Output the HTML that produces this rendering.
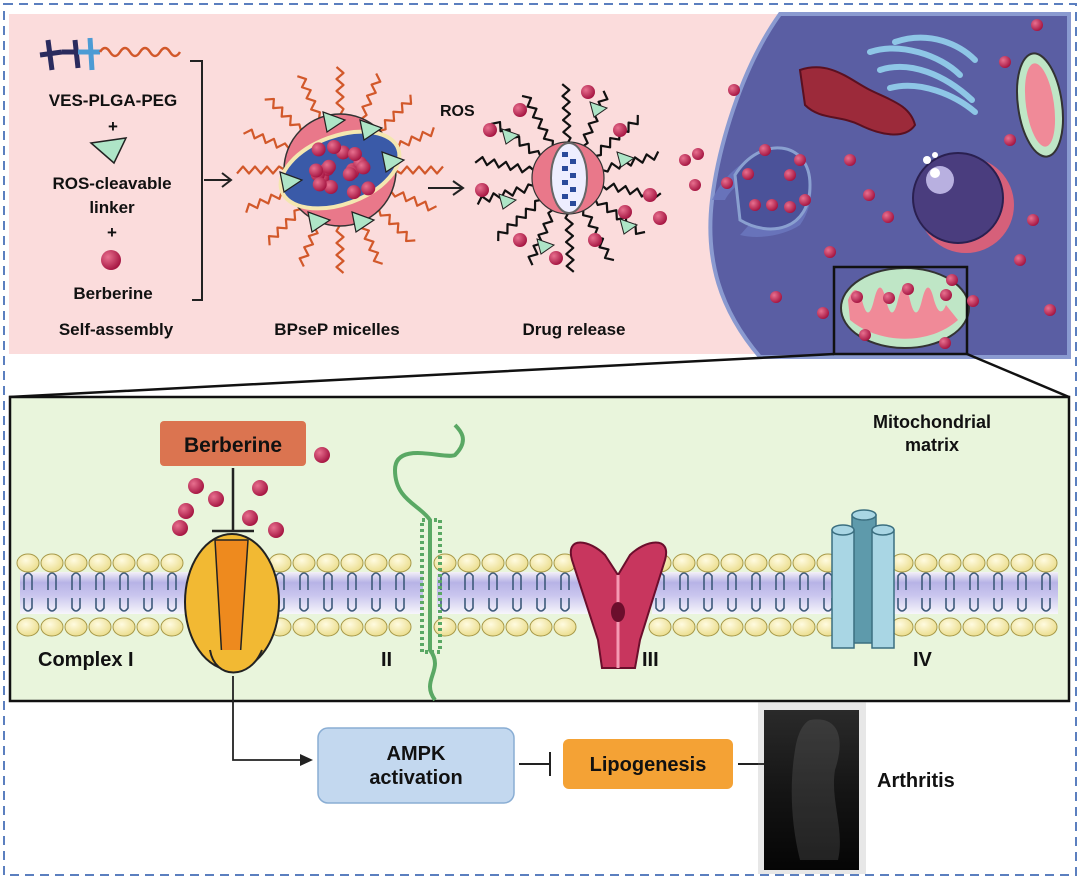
<!DOCTYPE html>
<html><head><meta charset="utf-8"><style>
html,body{margin:0;padding:0;background:#fff;width:1080px;height:879px;overflow:hidden}
svg{display:block}
text{font-family:"Liberation Sans",Arial,sans-serif;font-weight:bold;fill:#111}
</style></head><body>
<svg id="s" width="1080" height="879" viewBox="0 0 1080 879" xmlns="http://www.w3.org/2000/svg">
<defs>
<radialGradient id="ball" cx="0.35" cy="0.35" r="0.7"><stop offset="0" stop-color="#e8708f"/><stop offset="1" stop-color="#a3123f"/></radialGradient>
<linearGradient id="band" x1="0" y1="0" x2="0" y2="1"><stop offset="0" stop-color="#f4f0f8"/><stop offset="0.25" stop-color="#b7b3e6"/><stop offset="0.55" stop-color="#c9c5ee"/><stop offset="1" stop-color="#f7f6fb"/></linearGradient>
<radialGradient id="head" cx="0.4" cy="0.35" r="0.7"><stop offset="0" stop-color="#fffbe0"/><stop offset="1" stop-color="#eadc8a"/></radialGradient>
<linearGradient id="xr" x1="0" y1="0" x2="0" y2="1"><stop offset="0" stop-color="#2a2a2a"/><stop offset="0.5" stop-color="#151515"/><stop offset="1" stop-color="#050505"/></linearGradient>
</defs>
<rect x="4" y="4" width="1072" height="871" fill="none" stroke="#5b7fbf" stroke-width="2" stroke-dasharray="9,6"/>
<rect x="9" y="14" width="1060" height="340" fill="#fbdcdc"/>
<path d="M780 14 L1069 14 L1069 357 L760 357 C720 310 705 260 712 200 C718 150 740 70 780 14 Z" fill="#5a5ea3" stroke="#8a9ad0" stroke-width="4"/>
<path d="M712 200 C725 170 760 145 790 150 C815 160 818 200 800 225 C785 235 760 240 740 235 C755 220 770 195 760 180 C745 175 730 190 725 200 Z" fill="#6b78bf" opacity="0.8"/>
<path d="M735 175 C760 135 810 140 810 185 C810 230 770 238 740 220 Z" fill="#4b5299" stroke="#8aa0d0" stroke-width="3"/>
<g fill="none" stroke="#8ec6e6" stroke-width="6" stroke-linecap="round">
<path d="M870 52 C900 42 940 55 960 75"/><path d="M880 70 C910 60 945 75 972 100"/><path d="M890 88 C920 80 955 95 975 112"/><path d="M895 42 C930 30 960 45 975 60"/></g>
<path d="M800 70 C830 60 850 80 870 90 C890 100 910 105 915 125 C905 140 880 135 860 125 C840 115 820 120 805 105 Z" fill="#9c2a3a" stroke="#5a1020" stroke-width="2"/>
<ellipse cx="1040" cy="105" rx="22" ry="52" fill="#bfe6c6" stroke="#333" stroke-width="2" transform="rotate(-8 1040 105)"/>
<ellipse cx="1040" cy="105" rx="14" ry="42" fill="#f08a98" transform="rotate(-8 1040 105)"/>
<circle cx="966" cy="205" r="48" fill="#d6607a"/>
<circle cx="958" cy="198" r="45" fill="#4a3d7e" stroke="#2a2050" stroke-width="2"/>
<circle cx="940" cy="180" r="14" fill="#b8b0e0"/><circle cx="935" cy="173" r="5" fill="#fff"/>
<circle cx="927" cy="160" r="4" fill="#fff"/><circle cx="935" cy="155" r="3" fill="#fff"/>
<ellipse cx="905" cy="308" rx="64" ry="40" fill="#bfe6c6" stroke="#333" stroke-width="2"/>
<path d="M848 300 q8 -20 14 0 q6 25 12 0 q6 -25 12 0 q6 25 12 0 q6 -25 12 0 q6 25 12 0 q6 -25 12 0 q6 20 12 5 L958 320 C930 345 880 345 850 320 Z" fill="#f08a98"/>
<rect x="834" y="267" width="133" height="87" fill="none" stroke="#111" stroke-width="2.5"/>
<path d="M834 354 L9 397 M967 354 L1069 397" stroke="#111" stroke-width="2.5" fill="none"/>
<rect x="10" y="397" width="1059" height="304" fill="#e9f5dc" stroke="#111" stroke-width="2.5"/>
<g id="mem"></g>
<g id="dyn"></g>
<ellipse cx="232" cy="602" rx="47" ry="68" fill="#f2b933" stroke="#222" stroke-width="2"/>
<path d="M215 540 L248 540 L240 660 L222 660 Z" fill="#ee8a1e" stroke="#222" stroke-width="1.5"/>
<path d="M210 650 C215 680 250 680 262 650" fill="#f2b933" stroke="#222" stroke-width="2"/>
<path d="M435 700 C420 680 445 670 430 650 L430 520 C420 505 395 500 395 470 C395 440 445 460 455 455 C470 440 460 430 455 425" fill="none" stroke="#5aa864" stroke-width="4"/>
<rect x="422" y="520" width="18" height="132" fill="none" stroke="#5aa864" stroke-width="4" stroke-dasharray="3,3"/>
<path d="M572 560 C565 535 590 540 605 555 L618 575 L630 555 C645 540 672 535 665 560 L640 640 L635 668 L602 668 L598 640 Z" fill="#c8365e" stroke="#6b0e2c" stroke-width="2"/>
<path d="M618 575 L618 668" stroke="#f59ab3" stroke-width="3"/>
<ellipse cx="618" cy="612" rx="7" ry="10" fill="#6b0e2c"/>
<g fill="#a9d6e4" stroke="#3b6f80" stroke-width="1.5">
<rect x="852" y="515" width="24" height="128" fill="#5e9aab"/><ellipse cx="864" cy="515" rx="12" ry="5"/>
<rect x="832" y="530" width="22" height="118"/><ellipse cx="843" cy="530" rx="11" ry="5"/>
<rect x="872" y="530" width="22" height="118"/><ellipse cx="883" cy="530" rx="11" ry="5"/>
</g>
<rect x="160" y="421" width="146" height="45" rx="4" fill="#db7450"/>
<text x="233" y="452" font-size="21" text-anchor="middle">Berberine</text>
<path d="M233 468 L233 531 M212 531 L254 531" stroke="#222" stroke-width="2.5"/>
<g font-size="20">
<text x="38" y="666">Complex I</text>
<text x="381" y="666">II</text>
<text x="642" y="666">III</text>
<text x="913" y="666">IV</text>
</g>
<text x="932" y="428" font-size="18" text-anchor="middle">Mitochondrial</text>
<text x="932" y="451" font-size="18" text-anchor="middle">matrix</text>
<path d="M233 676 L233 760 L302 760" stroke="#222" stroke-width="1.8" fill="none"/>
<path d="M313 760 L300 754 L300 766 Z" fill="#222"/>
<rect x="318" y="728" width="196" height="75" rx="10" fill="#c3d8ef" stroke="#8aaed4" stroke-width="1.5"/>
<text x="416" y="760" font-size="20" text-anchor="middle">AMPK</text>
<text x="416" y="784" font-size="20" text-anchor="middle">activation</text>
<path d="M519 764 L550 764 M550 752 L550 776" stroke="#222" stroke-width="2"/>
<rect x="563" y="739" width="170" height="50" rx="6" fill="#f4a235"/>
<text x="648" y="771" font-size="20" text-anchor="middle">Lipogenesis</text>
<path d="M738 764 L767 764 M767 752 L767 776" stroke="#222" stroke-width="2"/>
<rect x="758" y="702" width="108" height="172" fill="#888" opacity="0.2"/>
<rect x="764" y="710" width="95" height="160" fill="url(#xr)"/>
<path d="M810 720 C840 715 845 740 835 770 C830 800 845 830 838 860 L800 860 C790 820 790 780 795 750 C798 730 805 722 810 720 Z" fill="#777" opacity="0.25"/>
<text x="877" y="787" font-size="20">Arthritis</text>
<g font-size="17">
<text x="113" y="106" text-anchor="middle">VES-PLGA-PEG</text>
<text x="113" y="132" text-anchor="middle">+</text>
<text x="112" y="189" text-anchor="middle">ROS-cleavable</text>
<text x="112" y="213" text-anchor="middle">linker</text>
<text x="112" y="238" text-anchor="middle">+</text>
<text x="113" y="299" text-anchor="middle">Berberine</text>
<text x="116" y="335" text-anchor="middle">Self-assembly</text>
<text x="337" y="335" text-anchor="middle">BPseP micelles</text>
<text x="574" y="335" text-anchor="middle">Drug release</text>
<text x="440" y="116" font-size="16">ROS</text>
</g>
<path d="M91 143 L126 138 L114 163 Z" fill="#aee5c7" stroke="#222" stroke-width="1.5"/>
<circle cx="111" cy="260" r="10" fill="url(#ball)"/>
<path d="M190 61 L202 61 L202 300 L192 300" stroke="#222" stroke-width="2" fill="none"/>
<path d="M204 180 L230 180 M222 173 L231 180 L222 187" stroke="#222" stroke-width="2" fill="none"/>
<path d="M428 188 L462 188 M453 181 L463 188 L453 195" stroke="#222" stroke-width="2" fill="none"/>
<path d="M40 55 L62 52 M48 40 L52 70 M62 52 L82 52 M75 40 L78 68" stroke="#2a2b5e" stroke-width="5" fill="none"/>
<path d="M78 52 L100 52 M90 38 L92 70" stroke="#4c9bd4" stroke-width="5" fill="none"/>
<path d="M100 52 q5 -8 10 0 q5 8 10 0 q5 -8 10 0 q5 8 10 0 q5 -8 10 0 q5 8 10 0 q5 -8 10 0 q5 8 10 0" stroke="#d2582a" stroke-width="2.5" fill="none"/>
</svg>
<script>
var NS="http://www.w3.org/2000/svg";
function el(t,a,p){var e=document.createElementNS(NS,t);for(var k in a)e.setAttribute(k,a[k]);(p||document.getElementById('dyn')).appendChild(e);return e;}
var mem=document.getElementById('mem');
var segs=[[28,190],[280,415],[445,580],[660,828],[902,1050]];
segs.forEach(function(s){
 el('rect',{x:s[0]-8,y:572,width:s[1]-s[0]+16,height:42,fill:'url(#band)'},mem);
 for(var x=s[0];x<=s[1];x+=24){
  el('path',{d:'M'+(x-4)+' 590 L'+(x-4)+' 576 Q'+x+' 570 '+(x+4)+' 576 L'+(x+4)+' 590 M'+(x-4)+' 598 L'+(x-4)+' 608 Q'+x+' 614 '+(x+4)+' 608 L'+(x+4)+' 598',stroke:'#3d5a7a','stroke-width':1.6,fill:'none'},mem);
  el('ellipse',{cx:x,cy:563,rx:11,ry:9,fill:'url(#head)',stroke:'#a89a4a','stroke-width':1},mem);
  el('ellipse',{cx:x,cy:627,rx:11,ry:9,fill:'url(#head)',stroke:'#a89a4a','stroke-width':1},mem);
 }
});
function wave(x,y,ang,len,col,w){var d='M'+x+' '+y,c=Math.cos(ang),s=Math.sin(ang),n=len/6;for(var i=1;i<=n;i++){var t=i*6,o=(i%2?3.5:-3.5);d+=' L'+(x+c*t-s*o)+' '+(y+s*t+c*o);}el('path',{d:d,stroke:col,'stroke-width':w,fill:'none','stroke-linejoin':'round'});}
for(var i=0;i<16;i++){var a=i/16*Math.PI*2;wave(340+Math.cos(a)*55,170+Math.sin(a)*55,a,50,'#d2582a',2.2);}
el('circle',{cx:340,cy:170,r:56,fill:'#e9788a',stroke:'#333','stroke-width':1.5});
el('ellipse',{cx:340,cy:170,rx:62,ry:34,fill:'#3a5aa8',stroke:'#f4e7b0','stroke-width':4,transform:'rotate(-20 340 170)'});
for(var i=0;i<18;i++){var a=i*2.4,r=8+ (i%4)*7;el('circle',{cx:340+Math.cos(a)*r*1.6,cy:170+Math.sin(a)*r*0.8,r:7,fill:'url(#ball)'});}
[[333,120],[370,128],[392,160],[290,180],[318,220],[362,220]].forEach(function(p){el('path',{d:'M'+(p[0]-10)+' '+(p[1]-8)+' L'+(p[0]+12)+' '+p[1]+' L'+(p[0]-6)+' '+(p[1]+12)+' Z',fill:'#aee5c7',stroke:'#222','stroke-width':1.2});});
for(var i=0;i<14;i++){var a=i/14*Math.PI*2+0.2;wave(568+Math.cos(a)*34,178+Math.sin(a)*34,a,62,'#111',2.2);}
el('circle',{cx:568,cy:178,r:36,fill:'#e9788a',stroke:'#333','stroke-width':1.2});
el('ellipse',{cx:569,cy:178,rx:18,ry:35,fill:'#eef',stroke:'#666','stroke-width':2});
for(var i=0;i<8;i++)el('path',{d:'M'+(562+(i%2)*8)+' '+(152+i*7)+' l6 0 l0 5 l-6 0 z',fill:'#2a4a9a'});
[[490,130],[520,110],[588,92],[620,130],[482,190],[520,240],[556,258],[595,240],[625,212],[650,195],[660,218]].forEach(function(p){el('circle',{cx:p[0],cy:p[1],r:7,fill:'url(#ball)'});});
[[510,135],[598,108],[625,158],[507,200],[545,245],[628,225]].forEach(function(p){el('path',{d:'M'+(p[0]-8)+' '+(p[1]-6)+' L'+(p[0]+9)+' '+p[1]+' L'+(p[0]-4)+' '+(p[1]+9)+' Z',fill:'#aee5c7',stroke:'#222','stroke-width':1});});
[[685,160],[698,154],[695,185],[727,183],[765,150],[800,160],[748,174],[790,175],[755,205],[772,205],[790,207],[805,200],[734,90],[850,160],[869,195],[888,217],[830,252],[776,297],[823,313],[1037,25],[1005,62],[1010,140],[1033,220],[1020,260],[1050,310],[857,297],[952,280],[946,295],[865,335],[945,343],[973,301],[889,298],[908,289]].forEach(function(p){el('circle',{cx:p[0],cy:p[1],r:6,fill:'url(#ball)'});});
[[322,455],[260,488],[250,518],[216,499],[186,511],[180,528],[196,486],[276,530]].forEach(function(p){el('circle',{cx:p[0],cy:p[1],r:8,fill:'url(#ball)'});});
</script>
</body></html>
